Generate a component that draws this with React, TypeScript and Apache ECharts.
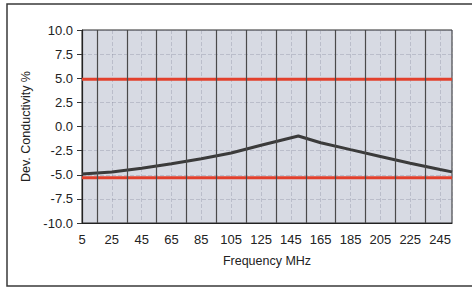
import React, { useEffect, useRef } from "react";
import * as echarts from "echarts";

// Frequency (MHz) and deviation of conductivity (%)
const FREQ = [5, 25, 45, 65, 85, 105, 125, 150, 165, 185, 205, 225, 245, 253];
const DEV = [-4.92, -4.72, -4.32, -3.85, -3.35, -2.75, -1.95, -0.98, -1.68, -2.4, -3.1, -3.8, -4.45, -4.7];

// Tolerance limits (red lines)
const UPPER_LIMIT = 4.9;
const LOWER_LIMIT = -5.3;

// Axis ranges / tick labels
const X_MIN = 5;
const X_MAX = 253;
const X_STEP = 20;
const X_TICKS = [5, 25, 45, 65, 85, 105, 125, 145, 165, 185, 205, 225, 245];
const Y_MIN = -10;
const Y_MAX = 10;
const Y_STEP = 2.5;

const FONT = "Liberation Sans, Arial, sans-serif";

export default function App() {
  const ref = useRef<HTMLDivElement>(null);

  useEffect(() => {
    if (!ref.current) return;
    const chart = echarts.init(ref.current, null, { renderer: "svg" });
    const toAxis = (f: number) => f - X_MIN;
    const darkLines = X_TICKS.slice(0, -1).map((t) => ({ xAxis: toAxis(t + X_STEP / 2) }));

    chart.setOption({
      animation: false,
      backgroundColor: "#ffffff",
      textStyle: { fontFamily: FONT },
      graphic: [
        {
          type: "rect",
          shape: { x: 7, y: 4, width: 470, height: 282 },
          style: { fill: "none", stroke: "#3a3a3a", lineWidth: 1.5 },
          silent: true,
          z: 0,
        },
      ],
      grid: {
        left: 82,
        right: 20,
        top: 30,
        bottom: 67,
        show: true,
        backgroundColor: "#d7dae3",
        borderColor: "#2a2a2a",
        borderWidth: 1,
      },
      xAxis: {
        type: "value",
        min: 0,
        max: X_MAX - X_MIN,
        interval: X_STEP,
        name: "Frequency MHz",
        nameLocation: "middle",
        nameGap: 31,
        nameTextStyle: { fontSize: 12.5, color: "#222", fontFamily: FONT },
        axisLine: { show: true, onZero: false, lineStyle: { color: "#222", width: 1.2 } },
        axisTick: { show: false },
        axisLabel: {
          margin: 10,
          fontSize: 13,
          color: "#222",
          fontFamily: FONT,
          showMaxLabel: false,
          formatter: (v: number) => String(v + X_MIN),
        },
        splitLine: { show: true, lineStyle: { color: "rgba(110,115,135,0.28)", width: 1, type: "dashed" } },
      },
      yAxis: {
        type: "value",
        min: Y_MIN,
        max: Y_MAX,
        interval: Y_STEP,
        name: "Dev. Conductivity %",
        nameLocation: "middle",
        nameGap: 49,
        nameTextStyle: { fontSize: 12.5, color: "#222", fontFamily: FONT },
        axisLine: { show: true, onZero: false, lineStyle: { color: "#222", width: 1.2 } },
        axisTick: { show: true, inside: false, length: 5, lineStyle: { color: "#333" } },
        axisLabel: {
          margin: 9,
          fontSize: 13,
          color: "#222",
          fontFamily: FONT,
          formatter: (v: number) => v.toFixed(1),
        },
        splitLine: { show: true, lineStyle: { color: "rgba(110,115,135,0.28)", width: 1, type: "dashed" } },
      },
      series: [
        {
          name: "grid",
          type: "line",
          data: [],
          markLine: {
            silent: true,
            symbol: "none",
            label: { show: false },
            lineStyle: { color: "#4a4a4a", width: 1.2, type: "solid" },
            data: darkLines,
          },
        },
        {
          name: "upper",
          type: "line",
          data: [[toAxis(X_MIN), UPPER_LIMIT], [toAxis(X_MAX), UPPER_LIMIT]],
          symbol: "none",
          lineStyle: { color: "#e2402c", width: 3 },
          z: 3,
        },
        {
          name: "lower",
          type: "line",
          data: [[toAxis(X_MIN), LOWER_LIMIT], [toAxis(X_MAX), LOWER_LIMIT]],
          symbol: "none",
          lineStyle: { color: "#e2402c", width: 3 },
          z: 3,
        },
        {
          name: "deviation",
          type: "line",
          data: FREQ.map((f, i) => [toAxis(f), DEV[i]]),
          symbol: "none",
          smooth: false,
          lineStyle: { color: "#3b3b3b", width: 3 },
          z: 4,
        },
      ],
    });

    return () => chart.dispose();
  }, []);

  return (
    <div
      ref={ref}
      style={{ position: "fixed", left: 0, top: 0, width: 472, height: 290 }}
    />
  );
}
